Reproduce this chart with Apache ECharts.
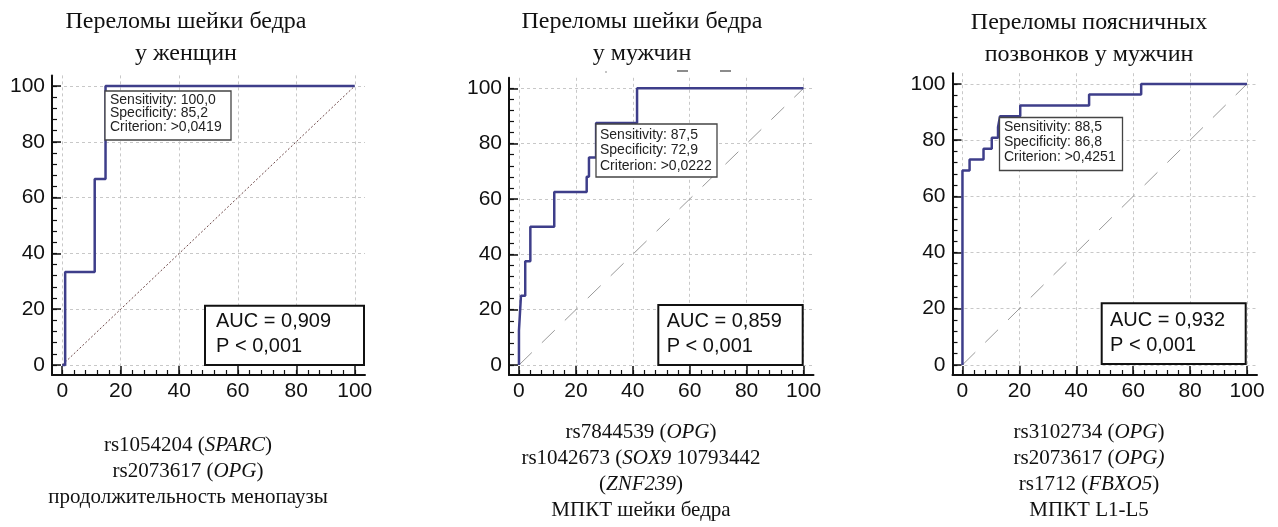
<!DOCTYPE html>
<html><head><meta charset="utf-8">
<script src="https://cdn.jsdelivr.net/npm/echarts@6/dist/echarts.min.js"></script>
<style>html,body{margin:0;padding:0;background:#fff}#c{width:1278px;height:527px}</style>
</head><body><div id="c"></div>
<script>
// ---- data ----
const tickLabels = [0, 20, 40, 60, 80, 100];
const minorTicks = [0,4,8,12,16,20,24,28,32,36,40,44,48,52,56,60,64,68,72,76,80,84,88,92,96,100];
const diagonalX = [0, 100];
const diagonalY = [0, 100];

// Panel 1: women, femoral neck
const fpr1 = [0, 1, 1, 11.1, 11.1, 14.8, 14.8, 100];
const sens1 = [0, 0, 33.3, 33.3, 66.7, 66.7, 100, 100];
// Panel 2: men, femoral neck
const fpr2 = [0, 0, 0.7, 0.7, 2.2, 2.2, 4.0, 4.0, 12.4, 12.4, 23.8, 23.8, 24.6, 24.6, 27.1, 27.1, 41.5, 41.5, 100];
const sens2 = [0, 12.5, 12.5, 25, 25, 37.5, 37.5, 50, 50, 62.5, 62.5, 68, 68, 75, 75, 87.5, 87.5, 100, 100];
// Panel 3: men, lumbar vertebrae
const fpr3 = [0, 0, 2.5, 2.5, 7.4, 7.4, 10.3, 10.3, 12.5, 12.5, 13.2, 13.2, 20.3, 20.3, 44.5, 44.5, 62.8, 62.8, 100];
const sens3 = [0, 69.2, 69.2, 73.1, 73.1, 76.9, 76.9, 80.8, 80.8, 84.6, 84.6, 88.5, 88.5, 92.3, 92.3, 96.2, 96.2, 100, 100];

const titles = ['Переломы шейки бедра\nу женщин', 'Переломы шейки бедра\nу мужчин', 'Переломы поясничных\nпозвонков у мужчин'];
const sensitivity = ['100,0', '87,5', '88,5'];
const specificity = ['85,2', '72,9', '86,8'];
const criterion = ['>0,0419', '>0,0222', '>0,4251'];
const auc = ['0,909', '0,859', '0,932'];
const pValue = ['0,001', '0,001', '0,001'];
const footnotes = [
  '{n|rs1054204 (}{i|SPARC}{n|)}\n{n|rs2073617 (}{i|OPG}{n|)}\n{n|продолжительность менопаузы}',
  '{n|rs7844539 (}{i|OPG}{n|)}\n{n|rs1042673 (}{i|SOX9}{n| 10793442}\n{n|(}{i|ZNF239}{n|)}\n{n|МПКТ шейки бедра}',
  '{n|rs3102734 (}{i|OPG}{n|)}\n{n|rs2073617 (}{i|OPG)}\n{n|rs1712 (}{i|FBXO5}{n|)}\n{n|МПКТ L1-L5}'
];

// ---- layout ----
const X_MIN = -3.5, X_MAX = 103.5, Y_MIN = -3.6, Y_MAX = 103.8;
const grids = [
  {left: 52, top: 75.4, width: 313, height: 299.6},
  {left: 509, top: 77.8, width: 304.5, height: 297.2},
  {left: 952.5, top: 73.2, width: 304.5, height: 301.8}
];
const curveColor = '#3e3e8a';
const diagStyles = [
  {color: '#6e4848', width: 1, type: [2, 2]},
  {color: '#9a9a9a', width: 1, type: [18, 14]},
  {color: '#9a9a9a', width: 1, type: [18, 14]}
];

const xAxes = [], yAxes = [], series = [];
const fprs = [fpr1, fpr2, fpr3], senss = [sens1, sens2, sens3];
grids.forEach((g, i) => {
  const mainCommon = {
    type: 'value', gridIndex: i, min: X_MIN, max: X_MAX,
    axisLine: {show: true, onZero: false, lineStyle: {color: '#111', width: 2}},
    axisTick: {show: true, inside: true, length: 9, customValues: tickLabels, lineStyle: {color: '#111', width: 1.5}},
    axisLabel: {show: true, customValues: tickLabels, color: '#111', fontSize: 21, fontFamily: 'Liberation Sans', margin: 6},
    splitLine: {show: true, lineStyle: {color: '#c8c8c8', width: 1, type: [3, 3]}}
  };
  const minorCommon = {
    type: 'value', gridIndex: i, min: X_MIN, max: X_MAX,
    axisLine: {show: false, onZero: false},
    axisTick: {show: true, inside: true, length: 5, customValues: minorTicks, lineStyle: {color: '#111', width: 1.2}},
    axisLabel: {show: false},
    splitLine: {show: false}
  };
  xAxes.push(Object.assign({}, mainCommon, {position: 'bottom'}));
  xAxes.push(Object.assign({}, minorCommon, {position: 'bottom'}));
  yAxes.push(Object.assign({}, mainCommon, {position: 'left', min: Y_MIN, max: Y_MAX,
    axisLabel: Object.assign({}, mainCommon.axisLabel, {margin: 7})}));
  yAxes.push(Object.assign({}, minorCommon, {position: 'left', min: Y_MIN, max: Y_MAX}));

  series.push({
    type: 'line', xAxisIndex: 2 * i, yAxisIndex: 2 * i, symbol: 'none', z: 2,
    lineStyle: diagStyles[i], silent: true,
    data: diagonalX.map((x, k) => [x, diagonalY[k]])
  });
  series.push({
    type: 'line', xAxisIndex: 2 * i, yAxisIndex: 2 * i, symbol: 'none', z: 3,
    lineStyle: {color: curveColor, width: 2.5}, silent: true,
    data: fprs[i].map((x, k) => [x, senss[i][k]])
  });
});

// annotation boxes & texts
const sensBoxes = [
  {x: 105, y: 91, w: 126, h: 49, tx: 110, ty: 93.3, lh: 13.4},
  {x: 596, y: 124, w: 121, h: 53, tx: 600, ty: 127.3, lh: 15.4},
  {x: 999.5, y: 117.5, w: 123, h: 53, tx: 1004, ty: 119.6, lh: 15.2}
];
const aucBoxes = [
  {x: 205, y: 305.7, w: 159, h: 59.3, tx: 216, ty: 309.2},
  {x: 658.3, y: 305, w: 144.4, h: 60, tx: 666.7, ty: 309.2},
  {x: 1101.7, y: 303.3, w: 144, h: 60.7, tx: 1110, ty: 307.5}
];
const titlePos = [{x: 186, y: 6}, {x: 642, y: 6}, {x: 1089, y: 7}];
const footPos = [{x: 188, y: 432}, {x: 641, y: 419}, {x: 1089, y: 419}];

const graphic = [];
for (let i = 0; i < 3; i++) {
  const s = sensBoxes[i], a = aucBoxes[i];
  graphic.push({type: 'rect', z: 100, shape: {x: s.x, y: s.y, width: s.w, height: s.h},
    style: {fill: '#fff', stroke: '#444', lineWidth: 1.3}});
  graphic.push({type: 'text', z: 101, style: {x: s.tx, y: s.ty,
    text: 'Sensitivity: ' + sensitivity[i] + '\nSpecificity: ' + specificity[i] + '\nCriterion: ' + criterion[i],
    font: '14px "Liberation Sans"', fill: '#222', lineHeight: s.lh,
    align: 'left', textAlign: 'left', verticalAlign: 'top', textVerticalAlign: 'top'}});
  graphic.push({type: 'rect', z: 100, shape: {x: a.x, y: a.y, width: a.w, height: a.h},
    style: {fill: '#fff', stroke: '#111', lineWidth: 2}});
  graphic.push({type: 'text', z: 101, style: {x: a.tx, y: a.ty,
    text: 'AUC = ' + auc[i] + '\nP < ' + pValue[i],
    font: '20px "Liberation Sans"', fill: '#111', lineHeight: 25,
    align: 'left', textAlign: 'left', verticalAlign: 'top', textVerticalAlign: 'top'}});
  graphic.push({type: 'text', z: 101, style: {x: titlePos[i].x, y: titlePos[i].y,
    text: titles[i], font: '24px "Liberation Serif"', fill: '#111', lineHeight: 32,
    align: 'center', textAlign: 'center', verticalAlign: 'top', textVerticalAlign: 'top'}});
  graphic.push({type: 'text', z: 101, style: {x: footPos[i].x, y: footPos[i].y,
    text: footnotes[i], fill: '#111', lineHeight: 26,
    align: 'center', textAlign: 'center', verticalAlign: 'top', textVerticalAlign: 'top',
    rich: {
      n: {fontFamily: 'Liberation Serif', fontSize: 21, fill: '#111', lineHeight: 26},
      i: {fontFamily: 'Liberation Serif', fontSize: 21, fontStyle: 'italic', fill: '#111', lineHeight: 26}
    }}});
}
// faint scan artefacts under the second title
graphic.push({type: 'line', z: 50, shape: {x1: 605.5, y1: 72, x2: 606.5, y2: 72}, style: {stroke: '#666', lineWidth: 1.5}});
graphic.push({type: 'line', z: 50, shape: {x1: 677, y1: 71, x2: 688, y2: 71}, style: {stroke: '#666', lineWidth: 1.5}});
graphic.push({type: 'line', z: 50, shape: {x1: 720, y1: 71, x2: 731, y2: 71}, style: {stroke: '#666', lineWidth: 1.5}});

const chart = echarts.init(document.getElementById('c'));
chart.setOption({
  animation: false,
  backgroundColor: '#fff',
  grid: grids.map(g => Object.assign({containLabel: false}, g)),
  xAxis: xAxes,
  yAxis: yAxes,
  series: series,
  graphic: graphic
});
</script>
</body></html>
